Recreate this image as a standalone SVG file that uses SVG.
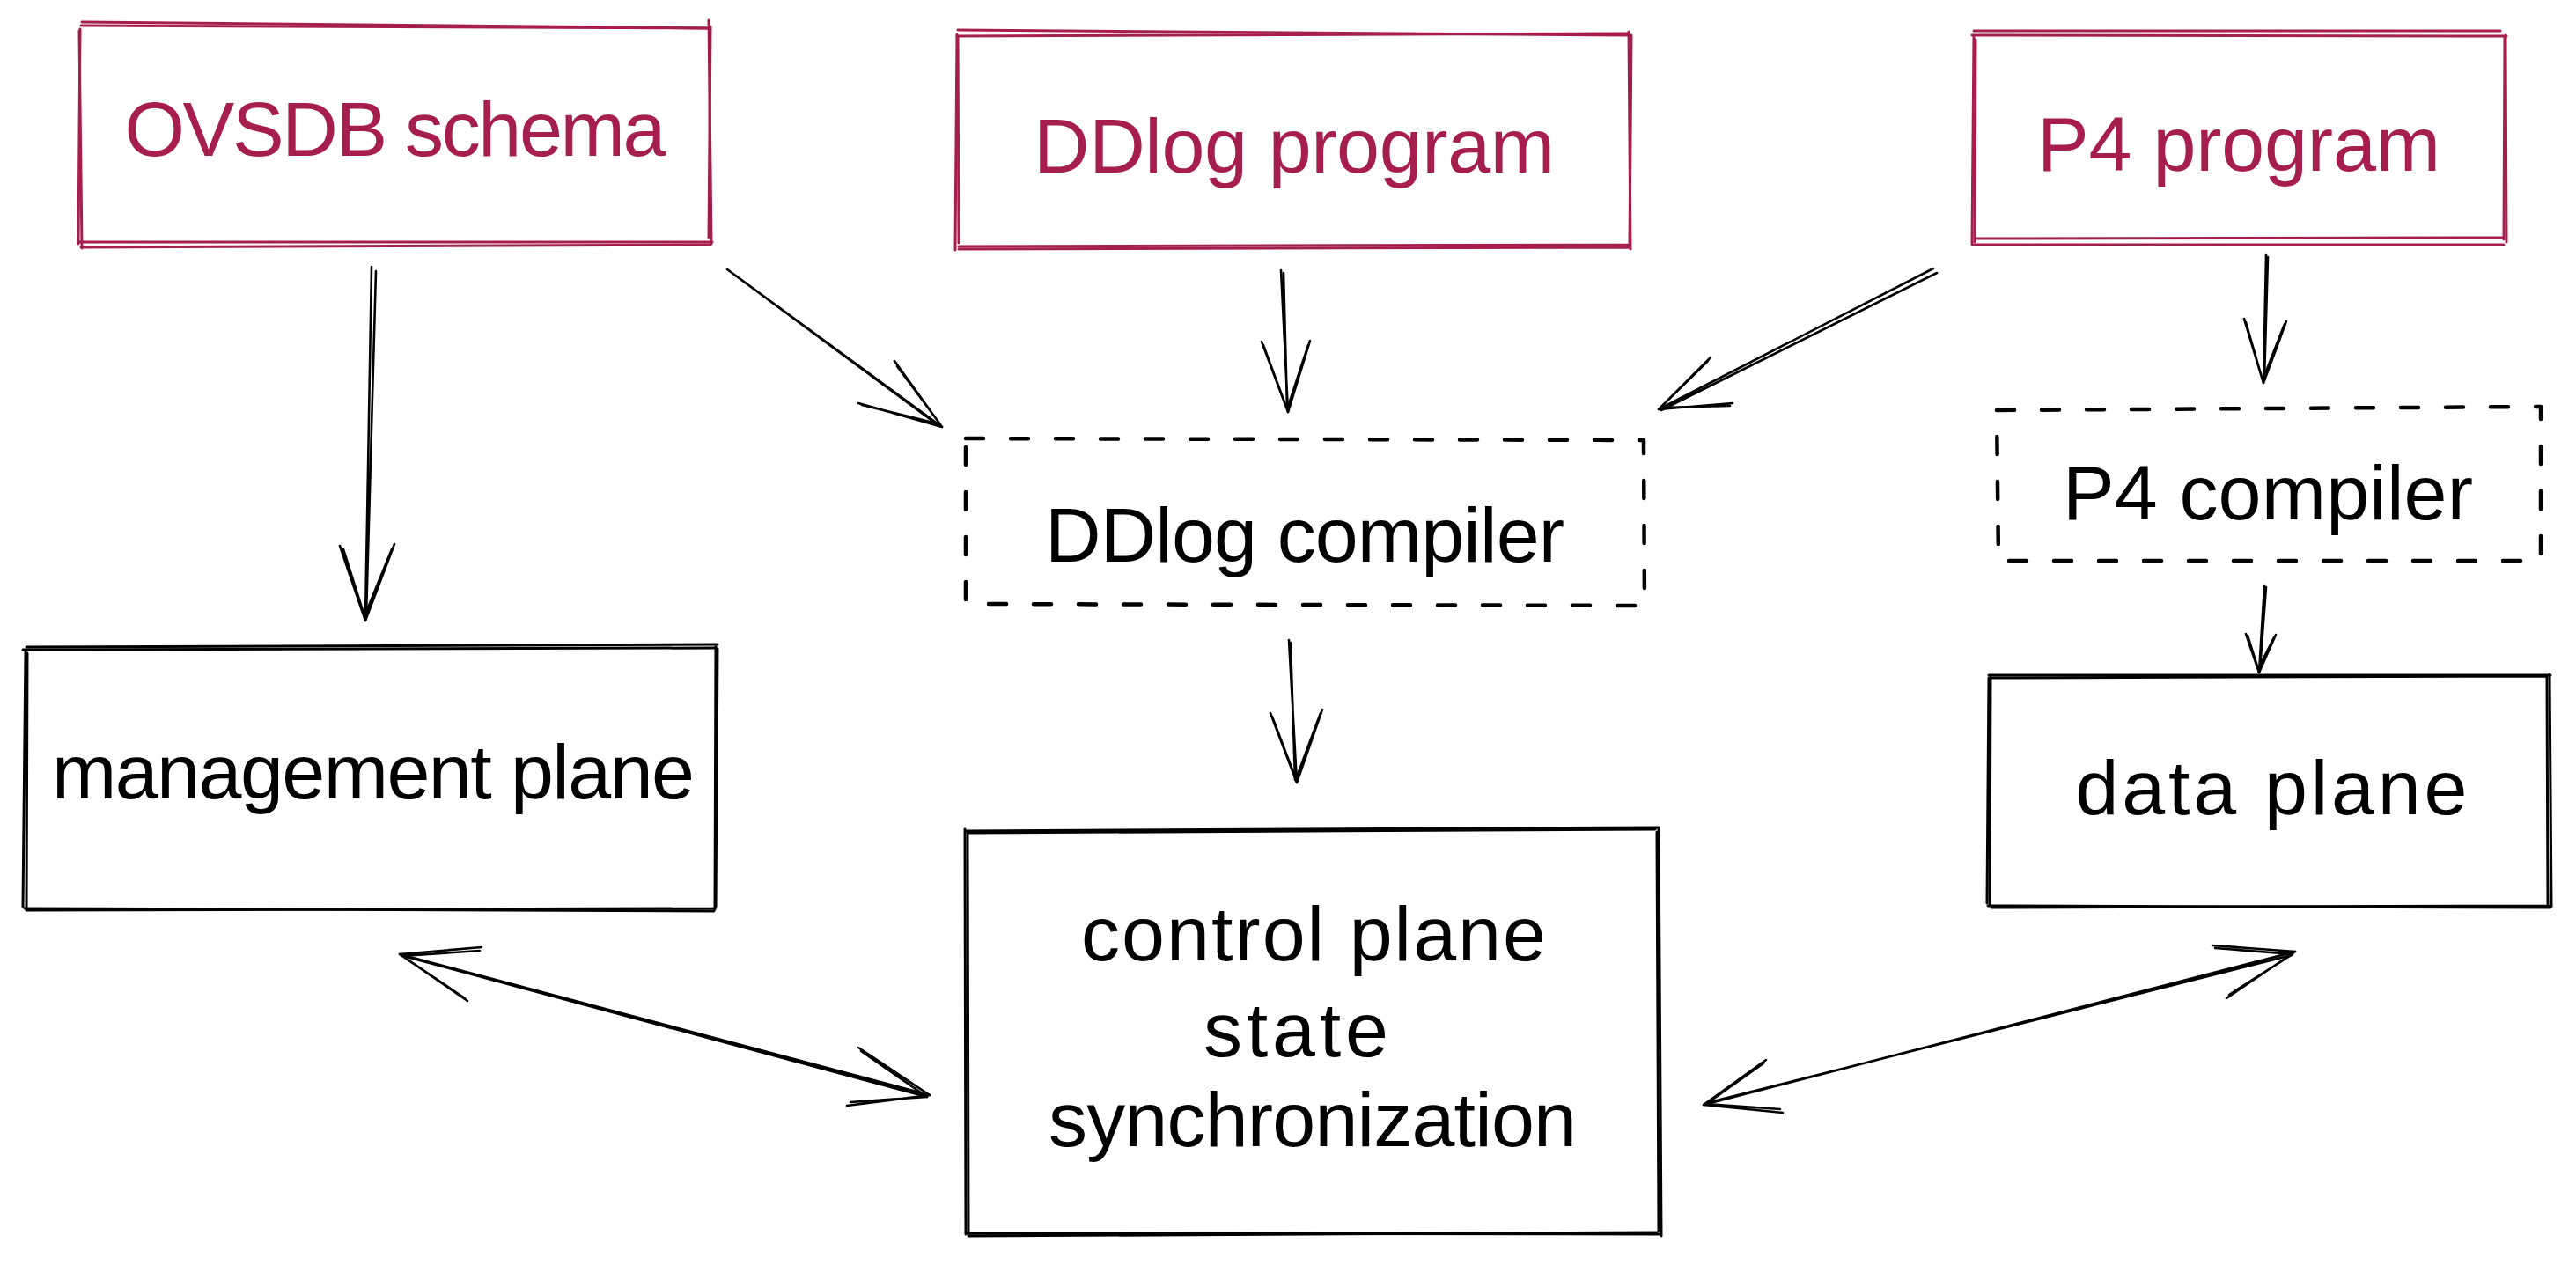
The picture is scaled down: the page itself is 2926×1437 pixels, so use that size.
<svg xmlns="http://www.w3.org/2000/svg" width="2926" height="1437" viewBox="0 0 2926 1437">
<style>
.red{fill:none;stroke:#a61e4d;stroke-width:3;stroke-linecap:round;stroke-linejoin:round}
.blk{fill:none;stroke:#000;stroke-width:3;stroke-linecap:round;stroke-linejoin:round}
.dash{fill:none;stroke:#000;stroke-width:4.5;stroke-dasharray:20 31;stroke-linecap:round;stroke-linejoin:round}
.conn path{fill:none;stroke:#000;stroke-width:2.6;stroke-linecap:round;stroke-linejoin:round}
.lbl{font-family:"Liberation Sans",Arial,sans-serif;font-size:88px;text-anchor:middle}
.lr{fill:#a61e4d}
.lb{fill:#000}
</style>
<rect width="2926" height="1437" fill="#fff"/>
<g id="ovsdb-schema">
<path class="red" d="M93 25 L806 32 M805 23 L808 277 M809 275 L89 275 M89 277 L91 33"/>
<path class="red" d="M92 29 L805 32 M807 30 L805 270 M807 278 L92 281 M93 282 L90 35"/>
<text class="lbl lr" x="449" y="177" textLength="615" lengthAdjust="spacing">OVSDB schema</text>
</g>
<g id="ddlog-program">
<path class="red" d="M1088 34 L1851 40 M1850 36 L1852 283 M1851 281 L1089 283 M1085 284 L1087 39"/>
<path class="red" d="M1087 41 L1849 38 M1853 40 L1851 276 M1851 278 L1089 280 M1089 276 L1088 42"/>
<text class="lbl lr" x="1470" y="196" textLength="592" lengthAdjust="spacing">DDlog program</text>
</g>
<g id="p4-program">
<path class="red" d="M2242 35 L2840 35 M2846 40 L2847 275 M2844 278 L2240 278 M2240 277 L2242 41"/>
<path class="red" d="M2240 40 L2847 41 M2845 42 L2844 272 M2843 270 L2244 271 M2243 275 L2244 45"/>
<text class="lbl lr" x="2543" y="194" textLength="458" lengthAdjust="spacing">P4 program</text>
</g>
<g id="ddlog-compiler">
<path class="dash" d="M1097 498 L1867 500 L1868 688 L1097 686 Z"/>
<text class="lbl lb" x="1482" y="638" textLength="590" lengthAdjust="spacing">DDlog compiler</text>
</g>
<g id="p4-compiler">
<path class="dash" d="M2268 466 L2886 462 L2886 637 L2270 637 Z"/>
<text class="lbl lb" x="2576" y="590" textLength="466" lengthAdjust="spacing">P4 compiler</text>
</g>
<g id="management-plane">
<path class="blk" d="M30 735 L815 732 M813 734 L812 1033 M811 1035 L28 1032 M26 1030 L29 740"/>
<path class="blk" d="M26 738 L813 736 M815 737 L813 1030 M812 1032 L30 1034 M30 1034 L31 742"/>
<text class="lbl lb" x="424" y="907" textLength="730" lengthAdjust="spacing">management plane</text>
</g>
<g id="control-plane">
<path class="blk" d="M1097 944 L1884 940 M1884 942 L1887 1404 M1885 1402 L1098 1401 M1097 1402 L1096 942"/>
<path class="blk" d="M1100 946 L1880 942 M1882 945 L1884 1398 M1882 1400 L1100 1404 M1100 1399 L1099 946"/>
<text class="lbl lb" x="1492" y="1091" textLength="528" lengthAdjust="spacing">control plane</text>
<text class="lbl lb" x="1472" y="1200" textLength="210" lengthAdjust="spacing">state</text>
<text class="lbl lb" x="1491" y="1302" textLength="600" lengthAdjust="spacing">synchronization</text>
</g>
<g id="data-plane">
<path class="blk" d="M2259 767 L2897 767 M2896 766 L2898 1030 M2897 1031 L2258 1029 M2260 1029 L2261 770"/>
<path class="blk" d="M2261 770 L2893 768 M2893 770 L2894 1027 M2895 1029 L2262 1031 M2257 1026 L2259 770"/>
<text class="lbl lb" x="2580" y="925" textLength="445" lengthAdjust="spacing">data plane</text>
</g>
<g id="connectors" class="conn">
<path d="M422 303 L415 705 M427 308 L416 700"/>
<path d="M386 620 L415 705 L448 618 M390 624 L414 700 L445 624"/>
<path d="M826 306 L1070 485 M830 309 L1067 484"/>
<path d="M1016 410 L1070 485 L975 458 M1019 416 L1068 482 L979 460"/>
<path d="M1455 307 L1463 468 M1458 310 L1462 464"/>
<path d="M1433 388 L1463 468 L1488 387 M1435 392 L1462 465 L1486 392"/>
<path d="M2196 305 L1884 465 M2200 310 L1887 466"/>
<path d="M1943 406 L1884 465 L1968 458 M1940 410 L1886 463 L1965 461"/>
<path d="M2574 289 L2571 435 M2576 292 L2572 432"/>
<path d="M2549 362 L2571 435 L2597 365 M2551 366 L2570 432 L2595 368"/>
<path d="M1464 727 L1473 889 M1466 730 L1471 886"/>
<path d="M1443 810 L1473 889 L1502 806 M1445 814 L1472 885 L1500 810"/>
<path d="M2572 665 L2566 764 M2574 667 L2567 760"/>
<path d="M2551 720 L2566 764 L2585 721 M2553 722 L2565 760 L2583 724"/>
<path d="M454 1084 L1056 1244 M458 1086 L1053 1246"/>
<path d="M547 1076 L454 1084 L531 1137 M545 1080 L457 1086 L528 1134"/>
<path d="M975 1190 L1056 1244 L962 1256 M978 1194 L1053 1246 L966 1252"/>
<path d="M2607 1081 L1935 1255 M2603 1085 L1938 1253"/>
<path d="M2513 1074 L2607 1081 L2529 1134 M2516 1077 L2604 1084 L2532 1130"/>
<path d="M2006 1204 L1935 1255 L2025 1264 M2003 1208 L1938 1254 L2022 1260"/>
</g>
</svg>
